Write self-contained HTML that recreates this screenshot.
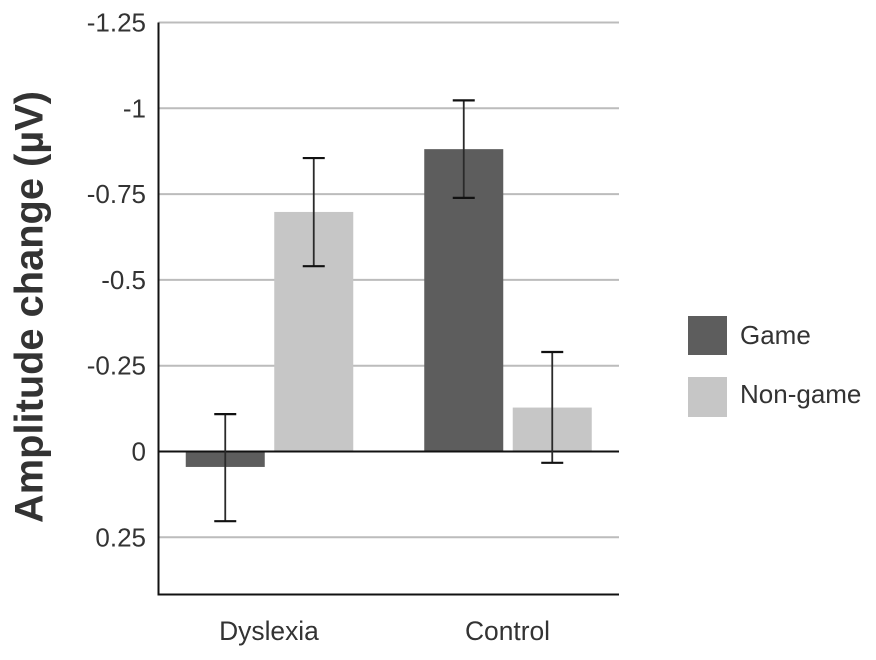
<!DOCTYPE html>
<html lang="en">
<head>
<meta charset="utf-8">
<title>Amplitude change chart</title>
<style>
  html, body { margin: 0; padding: 0; background: #fff; }
  svg { display: block; filter: blur(0.35px); }
  text { font-family: "Liberation Sans", sans-serif; fill: #333; }
</style>
</head>
<body>
<svg id="chart" xmlns="http://www.w3.org/2000/svg" width="876" height="660" viewBox="0 0 876 660">
  <text transform="translate(42.5 307) rotate(-90)" text-anchor="middle" font-size="39.8" font-weight="700">Amplitude change (µV)</text>
  <g id="grid"></g>
  <g id="bars"></g>
  <g id="axes"></g>
  <g id="errors"></g>
  <g id="labels"></g>
  <g>
    <rect x="688" y="316" width="39" height="39" fill="#5d5d5d"></rect>
    <text x="740" y="344" font-size="26">Game</text>
    <rect x="688" y="377" width="39" height="40" fill="#c6c6c6"></rect>
    <text x="740" y="403" font-size="26">Non-game</text>
  </g>
</svg>
<script>
const categories = ['Dyslexia', 'Control'];
const gameValues = [0.045, -0.881];
const nonGameValues = [-0.698, -0.128];
const gameErrorLow = [-0.109, -1.023];
const gameErrorHigh = [0.203, -0.739];
const nonGameErrorLow = [-0.855, -0.29];
const nonGameErrorHigh = [-0.54, 0.033];
const tickValues = [-1.25, -1, -0.75, -0.5, -0.25, 0, 0.25];
const tickLabels = ['-1.25', '-1', '-0.75', '-0.5', '-0.25', '0', '0.25'];

const NS = 'http://www.w3.org/2000/svg';
const plotLeft = 158.5, plotRight = 619, plotTop = 22.5, plotBottom = 594.5;
const zeroY = 451.5, pxPerUnit = 343.2;
const firstCenter = 269.5, groupStep = 238.5, barWidth = 79, barGap = 9.5;

function yScale(v) { return zeroY + v * pxPerUnit; }
function xCenter(i) { return firstCenter + i * groupStep; }
function barCenter(i, s) { return xCenter(i) + (s === 0 ? -1 : 1) * (barWidth + barGap) / 2; }

function make(tag, parentId, attrs) {
  const el = document.createElementNS(NS, tag);
  for (const k in attrs) el.setAttribute(k, attrs[k]);
  document.getElementById(parentId).appendChild(el);
  return el;
}

tickValues.forEach(function (v, i) {
  if (v !== 0) {
    const g = make('line', 'grid', { x1: plotLeft, x2: plotRight, y1: yScale(v), y2: yScale(v), stroke: '#bcbcbc', 'stroke-width': 2 });
    
    
  }
  const t = make('text', 'labels', { x: 146, y: yScale(v) + 9, 'text-anchor': 'end', 'font-size': 26 });
  t.textContent = tickLabels[i];
  
  
});

[gameValues, nonGameValues].forEach(function (series, s) {
  series.forEach(function (v, i) {
    const y0 = yScale(0), y1 = yScale(v);
    const r = make('rect', 'bars', {
      x: barCenter(i, s) - barWidth / 2,
      y: Math.min(y0, y1),
      width: barWidth,
      height: Math.abs(y1 - y0),
      fill: s === 0 ? '#5d5d5d' : '#c6c6c6'
    });
    
    
  });
});

const yAxis = make('line', 'axes', { x1: plotLeft, x2: plotLeft, y1: plotTop, y2: plotBottom + 1, stroke: '#111', 'stroke-width': 2 });


const xAxis = make('line', 'axes', { x1: plotLeft, x2: plotRight, y1: plotBottom, y2: plotBottom, stroke: '#111', 'stroke-width': 2 });


const zeroLine = make('line', 'axes', { x1: plotLeft, x2: plotRight, y1: yScale(0), y2: yScale(0), stroke: '#111', 'stroke-width': 2 });



[[gameErrorLow, gameErrorHigh], [nonGameErrorLow, nonGameErrorHigh]].forEach(function (pair, s) {
  categories.forEach(function (c, i) {
    const x = barCenter(i, s);
    const a = yScale(pair[0][i]), b = yScale(pair[1][i]);
    const stem = make('line', 'errors', { x1: x, x2: x, y1: a, y2: b, stroke: '#2a2a2a', 'stroke-width': 1.8 });
    
    
    const capTop = make('line', 'errors', { x1: x - 11, x2: x + 11, y1: a, y2: a, stroke: '#111', 'stroke-width': 2.2 });
    
    
    const capBottom = make('line', 'errors', { x1: x - 11, x2: x + 11, y1: b, y2: b, stroke: '#111', 'stroke-width': 2.2 });
    
    
  });
});

categories.forEach(function (c, i) {
  const t = make('text', 'labels', { x: xCenter(i) - 0.5, y: 640, 'text-anchor': 'middle', 'font-size': 26.4 });
  t.textContent = c;
  
  
});
</script>
</body>
</html>
